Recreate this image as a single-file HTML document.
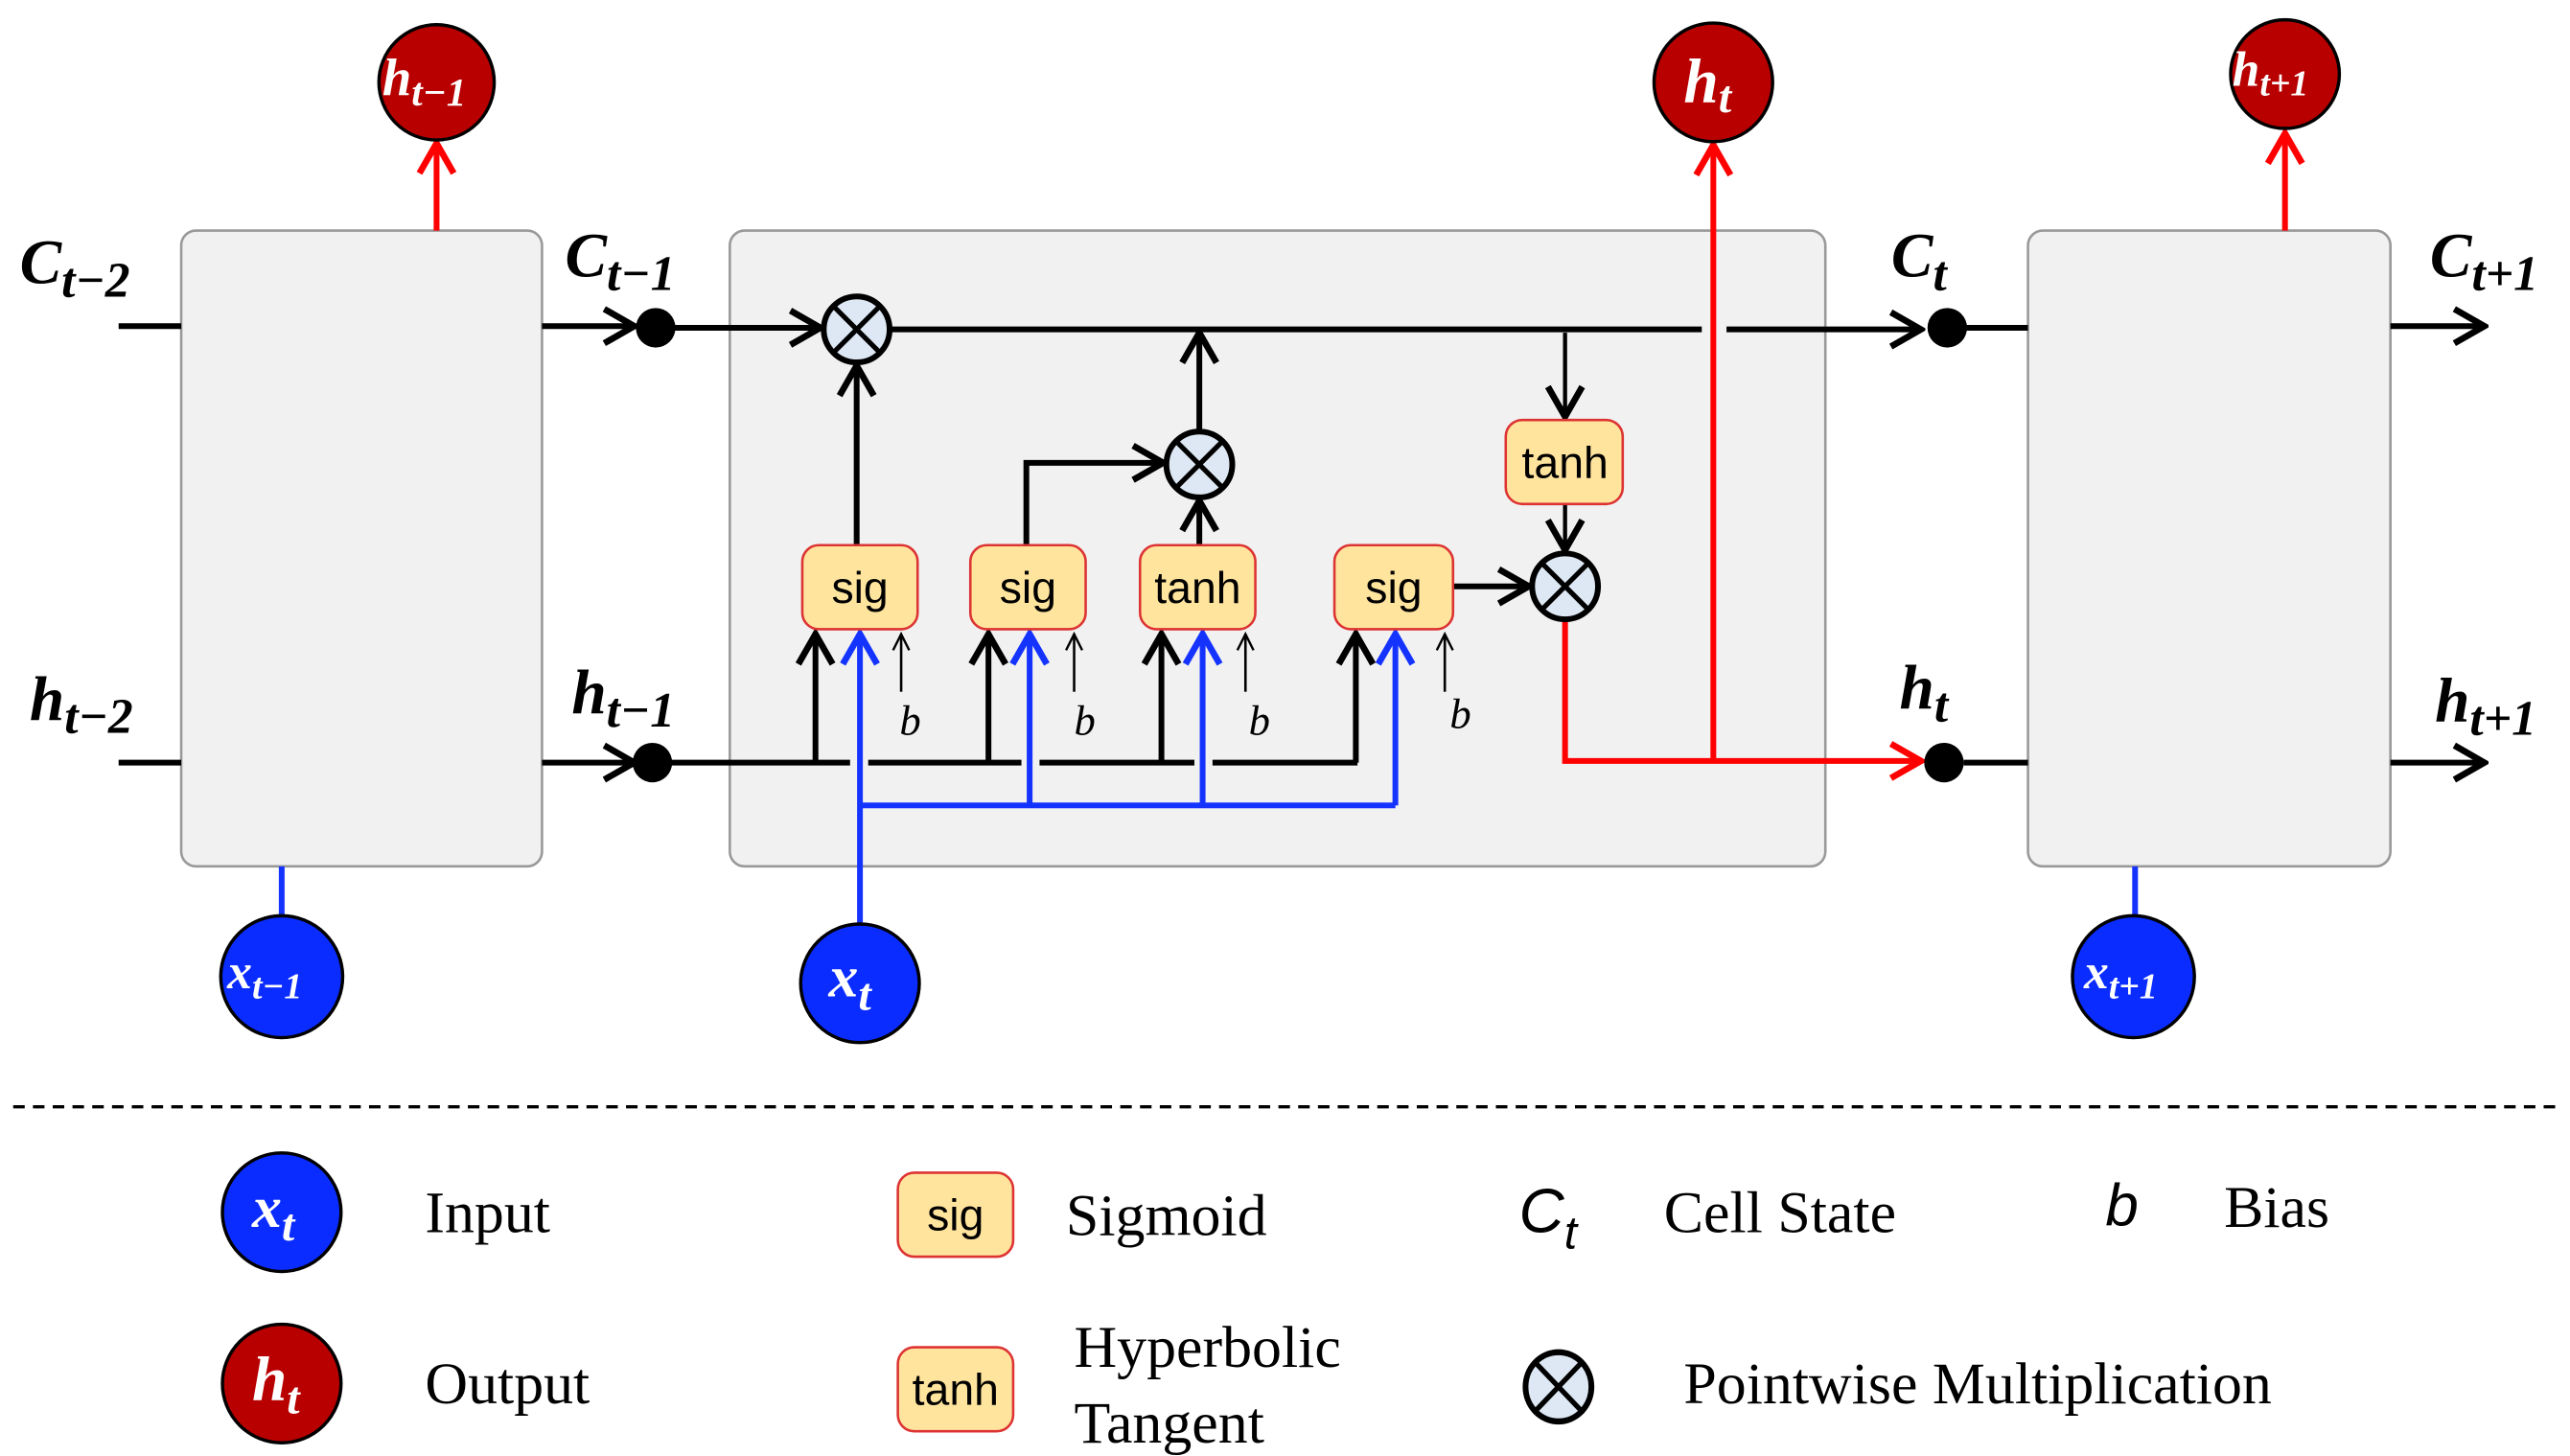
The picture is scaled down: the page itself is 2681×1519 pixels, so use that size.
<!DOCTYPE html>
<html><head><meta charset="utf-8"><style>
html,body{margin:0;padding:0;background:#fff;}
svg{display:block;}
.m{font-family:"Liberation Serif",serif;font-style:italic;font-weight:bold;}
.s{font-family:"Liberation Sans",sans-serif;}
.t{font-family:"Liberation Serif",serif;font-size:36px;fill:#000;}
</style></head><body>
<svg width="2681" height="1519" viewBox="0 0 1560 884" preserveAspectRatio="none" xmlns="http://www.w3.org/2000/svg">
<defs>
<marker id="ak" viewBox="0 0 10 10" refX="9" refY="5" markerWidth="6" markerHeight="6" orient="auto-start-reverse" markerUnits="userSpaceOnUse"><path d="M0,0 L10,5 L0,10" fill="none" stroke="#000" stroke-width="2.5"/></marker>
<marker id="a" viewBox="0 0 20 20" refX="18" refY="10" markerWidth="26" markerHeight="26" orient="auto" markerUnits="userSpaceOnUse"><path d="M4,2 L18,10 L4,18" fill="none" stroke="#000" stroke-width="3"/></marker>
<marker id="ar" viewBox="0 0 20 20" refX="18" refY="10" markerWidth="26" markerHeight="26" orient="auto" markerUnits="userSpaceOnUse"><path d="M4,2 L18,10 L4,18" fill="none" stroke="#f00" stroke-width="3"/></marker>
<marker id="ab" viewBox="0 0 20 20" refX="18" refY="10" markerWidth="26" markerHeight="26" orient="auto" markerUnits="userSpaceOnUse"><path d="M4,2 L18,10 L4,18" fill="none" stroke="#1533ff" stroke-width="3"/></marker>
<marker id="at" viewBox="0 0 20 20" refX="18" refY="10" markerWidth="14" markerHeight="14" orient="auto" markerUnits="userSpaceOnUse"><path d="M4,3 L18,10 L4,17" fill="none" stroke="#000" stroke-width="2"/></marker>
<g id="ox"><circle r="20" fill="#dde8f4" stroke="#000" stroke-width="3.5"/><path d="M-14,-14 L14,14 M14,-14 L-14,14" stroke="#000" stroke-width="3"/></g>
</defs>

<!-- boxes -->
<rect x="110" y="140" width="219" height="386" rx="9" fill="#f1f1f1" stroke="#999" stroke-width="1.5"/>
<rect x="443" y="140" width="665" height="386" rx="9" fill="#f1f1f1" stroke="#999" stroke-width="1.5"/>
<rect x="1231" y="140" width="220" height="386" rx="9" fill="#f1f1f1" stroke="#999" stroke-width="1.5"/>

<!-- C line -->
<g stroke="#000" stroke-width="3.5" fill="none">
<line x1="72" y1="198" x2="110" y2="198"/>
<line x1="329" y1="198" x2="385" y2="198" marker-end="url(#a)"/>
<line x1="398" y1="199" x2="498" y2="199" marker-end="url(#a)"/>
<line x1="540" y1="200" x2="1033" y2="200"/>
<line x1="1048" y1="200" x2="1166" y2="200" marker-end="url(#a)"/>
<line x1="1182" y1="199" x2="1231" y2="199"/>
<line x1="1451" y1="198" x2="1508" y2="198" marker-end="url(#a)"/>
<!-- h line -->
<line x1="72" y1="463" x2="110" y2="463"/>
<line x1="329" y1="463" x2="385" y2="463" marker-end="url(#a)"/>
<line x1="396" y1="463" x2="516" y2="463"/>
<line x1="527" y1="463" x2="620" y2="463"/>
<line x1="631" y1="463" x2="725" y2="463"/>
<line x1="736" y1="463" x2="824" y2="463"/>
<line x1="1192" y1="463" x2="1231" y2="463"/>
<line x1="1451" y1="463" x2="1508" y2="463" marker-end="url(#a)"/>
<!-- gate inputs from h -->
<line x1="495" y1="463" x2="495" y2="385" marker-end="url(#a)"/>
<line x1="600" y1="463" x2="600" y2="385" marker-end="url(#a)"/>
<line x1="705" y1="463" x2="705" y2="385" marker-end="url(#a)"/>
<line x1="823" y1="463" x2="823" y2="385" marker-end="url(#a)"/>
<!-- internal -->
<line x1="520" y1="331" x2="520" y2="222" marker-end="url(#a)"/>
<polyline points="623,331 623,281 706,281" marker-end="url(#a)"/>
<line x1="728" y1="331" x2="728" y2="304" marker-end="url(#a)"/>
<line x1="728" y1="262" x2="728" y2="202" marker-end="url(#a)"/>
<line x1="882" y1="356" x2="928" y2="356" marker-end="url(#a)"/>
<line x1="950" y1="202" x2="950" y2="253" stroke-width="2.5" marker-end="url(#a)"/>
<line x1="950" y1="305" x2="950" y2="334" stroke-width="2.5" marker-end="url(#a)"/>
</g>
<!-- bias arrows -->
<g stroke="#000" stroke-width="1.5">
<line x1="547" y1="420" x2="547" y2="385" marker-end="url(#at)"/>
<line x1="652" y1="420" x2="652" y2="385" marker-end="url(#at)"/>
<line x1="756" y1="420" x2="756" y2="385" marker-end="url(#at)"/>
<line x1="877" y1="420" x2="877" y2="385" marker-end="url(#at)"/>
</g>
<g class="m" font-size="26" font-weight="normal" style="font-weight:normal">
<text x="546" y="446">b</text><text x="652" y="446">b</text><text x="758" y="446">b</text><text x="880" y="442">b</text>
</g>
<!-- blue -->
<g stroke="#1533ff" stroke-width="3.5" fill="none">
<line x1="522" y1="562" x2="522" y2="385" marker-end="url(#ab)"/>
<polyline points="522,489 847,489"/>
<line x1="625" y1="489" x2="625" y2="385" marker-end="url(#ab)"/>
<line x1="730" y1="489" x2="730" y2="385" marker-end="url(#ab)"/>
<line x1="847" y1="489" x2="847" y2="385" marker-end="url(#ab)"/>
<line x1="171" y1="526" x2="171" y2="557"/>
<line x1="1296" y1="526" x2="1296" y2="557"/>
</g>
<!-- red -->
<g stroke="#f00" stroke-width="3.5" fill="none">
<polyline points="950,376 950,462 1166,462" marker-end="url(#ar)"/>
<line x1="1040" y1="462" x2="1040" y2="88" marker-end="url(#ar)"/>
<line x1="265" y1="140" x2="265" y2="87" marker-end="url(#ar)"/>
<line x1="1387" y1="140" x2="1387" y2="81" marker-end="url(#ar)"/>
</g>
<!-- dots -->
<g fill="#000">
<circle cx="398" cy="199" r="12"/><circle cx="396" cy="463" r="12"/>
<circle cx="1182" cy="199" r="12"/><circle cx="1180" cy="463" r="12"/>
</g>
<use href="#ox" x="520" y="200"/>
<use href="#ox" x="728" y="282"/>
<use href="#ox" x="950" y="356"/>
<!-- gate boxes -->
<g fill="#ffe49e" stroke="#d33" stroke-width="1.5">
<rect x="487" y="331" width="70" height="51" rx="10"/>
<rect x="589" y="331" width="70" height="51" rx="10"/>
<rect x="692" y="331" width="70" height="51" rx="10"/>
<rect x="810" y="331" width="72" height="51" rx="10"/>
<rect x="914" y="255" width="71" height="51" rx="10"/>
<rect x="545" y="712" width="70" height="51" rx="10"/>
<rect x="545" y="818" width="70" height="51" rx="10"/>
</g>
<g class="s" font-size="27" text-anchor="middle" fill="#000">
<text x="522" y="366">sig</text><text x="624" y="366">sig</text><text x="727" y="366">tanh</text><text x="846" y="366">sig</text><text x="950" y="290">tanh</text>
<text x="580" y="747">sig</text><text x="580" y="853">tanh</text>
</g>
<!-- circles -->
<g stroke="#000" stroke-width="2">
<circle cx="265" cy="50" r="35" fill="#b80000"/>
<circle cx="1040" cy="50" r="36" fill="#b80000"/>
<circle cx="1387" cy="45" r="33" fill="#b80000"/>
<circle cx="171" cy="593" r="37" fill="#0a2cff"/>
<circle cx="522" cy="597" r="36" fill="#0a2cff"/>
<circle cx="1295" cy="593" r="37" fill="#0a2cff"/>
<circle cx="171" cy="736" r="36" fill="#0a2cff"/>
<circle cx="171" cy="840" r="36" fill="#b80000"/>
</g>
<g class="m" fill="#fff">
<text x="232" y="58" font-size="32">h<tspan font-size="24" dy="6">t−1</tspan></text>
<text x="1022" y="62" font-size="38">h<tspan font-size="28" dy="6">t</tspan></text>
<text x="1355" y="52" font-size="30">h<tspan font-size="22" dy="6">t+1</tspan></text>
<text x="138" y="600" font-size="30">x<tspan font-size="22" dy="6">t−1</tspan></text>
<text x="503" y="605" font-size="36">x<tspan font-size="28" dy="8">t</tspan></text>
<text x="1265" y="600" font-size="30">x<tspan font-size="22" dy="6">t+1</tspan></text>
<text x="153" y="745" font-size="36">x<tspan font-size="28" dy="8">t</tspan></text>
<text x="153" y="850" font-size="38">h<tspan font-size="28" dy="8">t</tspan></text>
</g>
<g class="m" fill="#000">
<text x="12" y="172" font-size="38">C<tspan font-size="30" dy="8">t−2</tspan></text>
<text x="18" y="437" font-size="38">h<tspan font-size="30" dy="8">t−2</tspan></text>
<text x="343" y="168" font-size="38">C<tspan font-size="30" dy="8">t−1</tspan></text>
<text x="347" y="433" font-size="38">h<tspan font-size="30" dy="8">t−1</tspan></text>
<text x="1148" y="168" font-size="38">C<tspan font-size="30" dy="8">t</tspan></text>
<text x="1153" y="430" font-size="38">h<tspan font-size="30" dy="8">t</tspan></text>
<text x="1475" y="168" font-size="38">C<tspan font-size="30" dy="8">t+1</tspan></text>
<text x="1478" y="438" font-size="38">h<tspan font-size="30" dy="8">t+1</tspan></text>
</g>
<!-- dashed -->
<line x1="8" y1="672" x2="1556" y2="672" stroke="#000" stroke-width="2" stroke-dasharray="7,5"/>
<!-- legend -->
<text class="t" x="258" y="748">Input</text>
<text class="t" x="258" y="852">Output</text>
<text class="t" x="647" y="750">Sigmoid</text>
<text class="t" x="652" y="830">Hyperbolic</text>
<text class="t" x="652" y="876">Tangent</text>
<text x="922" y="748" font-family="Liberation Sans,sans-serif" font-style="italic" font-size="38">C<tspan font-size="28" dy="10">t</tspan></text>
<text class="t" x="1010" y="748">Cell State</text>
<text x="1278" y="744" font-family="Liberation Sans,sans-serif" font-style="italic" font-size="36">b</text>
<text class="t" x="1350" y="745">Bias</text>
<g transform="translate(946,842) scale(1,1.05)"><use href="#ox"/></g>
<text class="t" x="1022" y="852">Pointwise Multiplication</text>
</svg>
</body></html>
